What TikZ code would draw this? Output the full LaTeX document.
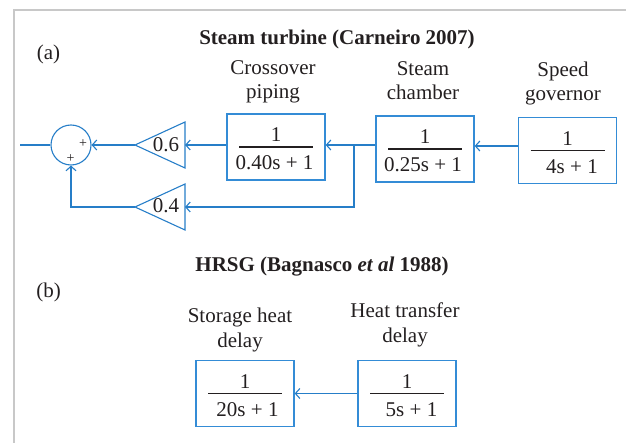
\documentclass[tikz,border=0pt]{standalone}
\usepackage{fontspec}
\setmainfont{Liberation Serif}
\usetikzlibrary{arrows.meta,calc}
\definecolor{lineblue}{RGB}{38,126,200}
\definecolor{boxblue}{RGB}{52,140,214}
\definecolor{txt}{RGB}{35,31,32}
\definecolor{framegray}{RGB}{200,200,200}
\newcommand\tfnode[5]{%
  \node[tfbox] (#1) at (#2,#3) {};
  \draw[fracline] ($(#1.center)+(-37,0)$) -- ($(#1.center)+(37,0)$);
  \node[anchor=base] (#1n) at ($(#1.center)+(0,-5)$) {1};
  \node[anchor=base] (#1d) at ($(#1.center)+(#5,23)$) {#4};
}
\begin{document}
\begin{tikzpicture}[x=1pt,y=-1pt,
  every node/.style={text=txt, font=\fontsize{21}{24}\selectfont, inner sep=0pt},
  tfbox/.style={draw=boxblue, line width=1.3pt, minimum width=98pt, minimum height=66pt},
  wire/.style={draw=lineblue, line width=1.1pt},
  arr/.style={wire, -{Straight Barb[length=4.5pt,width=10pt,line width=1.1pt]}},
  lbl/.style={anchor=base},
  fracline/.style={draw=txt, line width=1.3pt},
  plus/.style={font=\fontsize{14}{14}\selectfont},
]
\useasboundingbox (0,0) rectangle (626,443);
% frame
\draw[framegray, line width=1.5pt] (14,443) -- (14,10) -- (626,10);

% (a) part
\node[lbl] (ta) at (337,45) {\bfseries Steam turbine (Carneiro 2007)};
\node[lbl] (la) at (48.5,60) {(a)};
\node[lbl] (l1a) at (273,75) {Crossover};
\node[lbl] (l1b) at (273,99) {piping};
\node[lbl] (l2a) at (423,76) {Steam};
\node[lbl] (l2b) at (423,100) {chamber};
\node[lbl] (l3a) at (563,77) {Speed};
\node[lbl] (l3b) at (563,101) {governor};

\tfnode{box1}{276}{147}{0.40s + 1}{-1.5}
\tfnode{box2}{425}{149}{0.25s + 1}{-2}
\tfnode{box3}{567.5}{150.5}{4s + 1}{4.5}

\node[draw=lineblue, line width=1.1pt, circle, minimum size=40pt] (sum) at (71,145) {};
\node[plus] (p1) at (83,143.5) {+};
\node[plus] (p2) at (70.5,158.5) {+};
\coordinate (outp) at (20,145);

% gains
\coordinate (g6t) at (135,145);
\coordinate (g6b) at (185,145);
\draw[wire] (g6t) -- (185,122) -- (185,168) -- cycle;
\node[lbl] (g6) at (166,152) {0.6};
\coordinate (g4t) at (135,207);
\coordinate (g4b) at (185,207);
\draw[wire] (g4t) -- (185,184) -- (185,230) -- cycle;
\node[lbl] (g4) at (166,213) {0.4};

% connectors
\coordinate (j) at (354,145);
\coordinate (k) at (354,146);
\draw[arr] (box3.west |- k) -- (box2.east |- k);
\draw[arr] (box2.west |- j) -- (box1.east |- j);
\draw[arr] (j) |- (g4b);
\draw[arr] (box1.west |- j) -- (g6b);
\draw[arr] (g6t) -- (sum.east);
\draw[arr] (g4t) -| (sum.south);
\draw[wire] (sum.west) -- (outp);

% (b) part
\node[lbl] (tb) at (322,272) {\bfseries HRSG (Bagnasco \textit{et al} 1988)};
\node[lbl] (lb) at (48.5,298) {(b)};
\node[lbl] (l4a) at (240,323) {Storage heat};
\node[lbl] (l4b) at (240,347) {delay};
\node[lbl] (l5a) at (405,318) {Heat transfer};
\node[lbl] (l5b) at (405,342) {delay};

\tfnode{box4}{245}{393.5}{20s + 1}{2.5}
\tfnode{box5}{407}{393.5}{5s + 1}{4.5}
\draw[arr] (box5.west) -- (box4.east);
\end{tikzpicture}
\end{document}
